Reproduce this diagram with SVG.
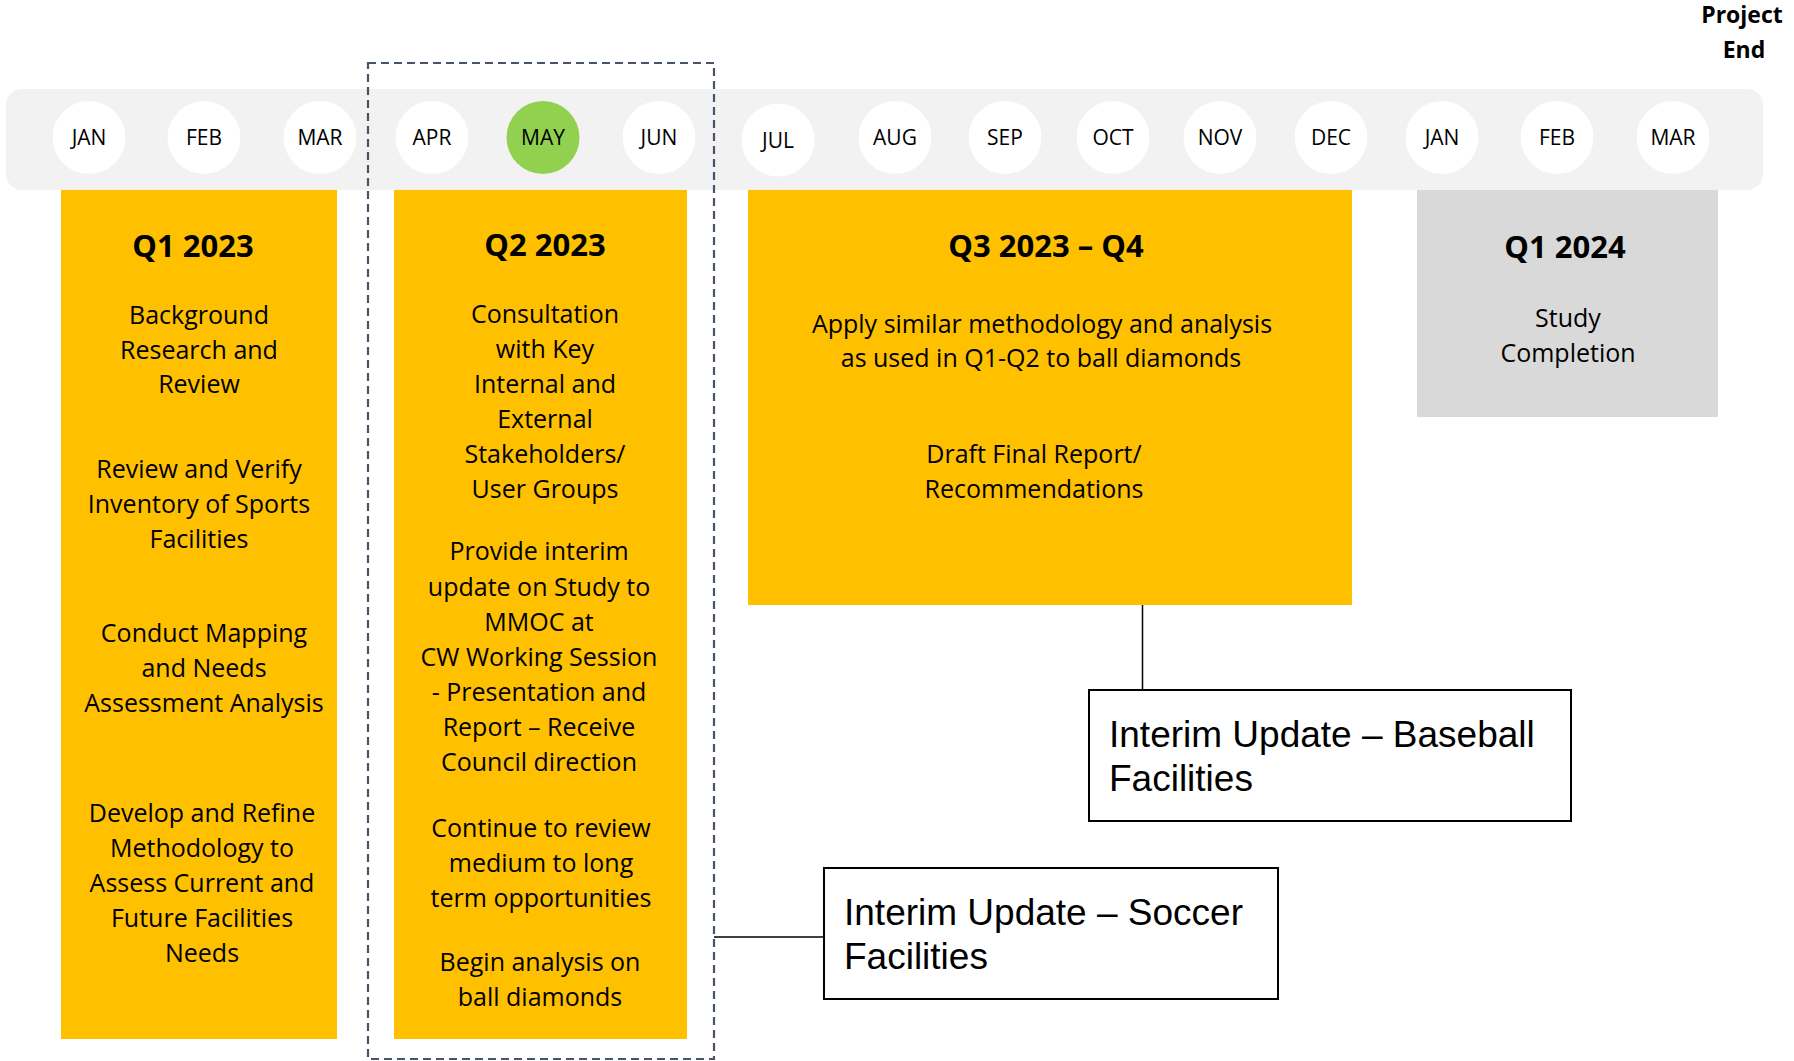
<svg xmlns="http://www.w3.org/2000/svg" width="1794" height="1061" viewBox="0 0 1794 1061">
  <style>
    .month { fill: #ffffff; }
    .month-on { fill: #92D050; }
    .mlabel { font-family: "Open Sans", "DejaVu Sans", sans-serif; font-size: 21px; fill: #000; text-anchor: middle; }
    .phase { fill: #FFC000; }
    .phase-end { fill: #D9D9D9; }
    .head { font-family: "Open Sans", "DejaVu Sans", sans-serif; font-size: 31px; font-weight: bold; fill: #000; text-anchor: middle; }
    .body { font-family: "Open Sans", "DejaVu Sans", sans-serif; font-size: 25px; fill: #000; text-anchor: middle; }
    .note { fill: #ffffff; stroke: #000; stroke-width: 2; }
    .ntext { font-family: "Liberation Sans", Arial, sans-serif; font-size: 37px; fill: #000; }
    .wire { stroke: #000; stroke-width: 1.5; fill: none; }
    .focus { fill: none; stroke: #44546A; stroke-width: 2.2; stroke-dasharray: 8 5; }
    .end { font-family: "Open Sans", "DejaVu Sans", sans-serif; font-size: 23px; font-weight: bold; fill: #000; text-anchor: middle; }
  </style>

  <rect width="1794" height="1061" fill="#ffffff"/>

  <!-- month strip -->
  <g id="timeline">
    <rect x="6" y="89" width="1757" height="101" rx="16" fill="#F2F2F2"/>
    <g id="m-jan-23"><circle class="month" cx="89" cy="137.5" r="36.5"/><text class="mlabel" x="89" y="145">JAN</text></g>
    <g id="m-feb-23"><circle class="month" cx="204" cy="137.5" r="36.5"/><text class="mlabel" x="204" y="145">FEB</text></g>
    <g id="m-mar-23"><circle class="month" cx="320" cy="137.5" r="36.5"/><text class="mlabel" x="320" y="145">MAR</text></g>
    <g id="m-apr-23"><circle class="month" cx="432" cy="137.5" r="36.5"/><text class="mlabel" x="432" y="145">APR</text></g>
    <g id="m-may-23"><circle class="month-on" cx="543" cy="137.5" r="36.5"/><text class="mlabel" x="543" y="145">MAY</text></g>
    <g id="m-jun-23"><circle class="month" cx="659" cy="137.5" r="36.5"/><text class="mlabel" x="659" y="145">JUN</text></g>
    <g id="m-jul-23"><circle class="month" cx="778" cy="140" r="36.5"/><text class="mlabel" x="778" y="148">JUL</text></g>
    <g id="m-aug-23"><circle class="month" cx="895" cy="137.5" r="36.5"/><text class="mlabel" x="895" y="145">AUG</text></g>
    <g id="m-sep-23"><circle class="month" cx="1005" cy="137.5" r="36.5"/><text class="mlabel" x="1005" y="145">SEP</text></g>
    <g id="m-oct-23"><circle class="month" cx="1113" cy="137.5" r="36.5"/><text class="mlabel" x="1113" y="145">OCT</text></g>
    <g id="m-nov-23"><circle class="month" cx="1220" cy="137.5" r="36.5"/><text class="mlabel" x="1220" y="145">NOV</text></g>
    <g id="m-dec-23"><circle class="month" cx="1331" cy="137.5" r="36.5"/><text class="mlabel" x="1331" y="145">DEC</text></g>
    <g id="m-jan-24"><circle class="month" cx="1442" cy="137.5" r="36.5"/><text class="mlabel" x="1442" y="145">JAN</text></g>
    <g id="m-feb-24"><circle class="month" cx="1557" cy="137.5" r="36.5"/><text class="mlabel" x="1557" y="145">FEB</text></g>
    <g id="m-mar-24"><circle class="month" cx="1673" cy="137.5" r="36.5"/><text class="mlabel" x="1673" y="145">MAR</text></g>
  </g>

  <g id="project-end">
    <text class="end" x="1742" y="23">Project</text>
    <text class="end" x="1744" y="58">End</text>
  </g>

  <!-- Q1 2023 -->
  <g id="q1-2023">
    <rect class="phase" x="61" y="190" width="276" height="849"/>
    <text class="head" x="193" y="257">Q1 2023</text>
    <text class="body" x="199" y="324">Background</text>
    <text class="body" x="199" y="359">Research and</text>
    <text class="body" x="199" y="393">Review</text>
    <text class="body" x="199" y="478">Review and Verify</text>
    <text class="body" x="199" y="513">Inventory of Sports</text>
    <text class="body" x="199" y="548">Facilities</text>
    <text class="body" x="204" y="642">Conduct Mapping</text>
    <text class="body" x="204" y="677">and Needs</text>
    <text class="body" x="204" y="712">Assessment Analysis</text>
    <text class="body" x="202" y="822">Develop and Refine</text>
    <text class="body" x="202" y="857">Methodology to</text>
    <text class="body" x="202" y="892">Assess Current and</text>
    <text class="body" x="202" y="927">Future Facilities</text>
    <text class="body" x="202" y="962">Needs</text>
  </g>

  <!-- Q2 2023 -->
  <g id="q2-2023">
    <rect class="phase" x="394" y="190" width="293" height="849"/>
    <text class="head" x="545" y="256">Q2 2023</text>
    <text class="body" x="545" y="323">Consultation</text>
    <text class="body" x="545" y="358">with Key</text>
    <text class="body" x="545" y="393">Internal and</text>
    <text class="body" x="545" y="428">External</text>
    <text class="body" x="545" y="463">Stakeholders/</text>
    <text class="body" x="545" y="498">User Groups</text>
    <text class="body" x="539" y="560">Provide interim</text>
    <text class="body" x="539" y="596">update on Study to</text>
    <text class="body" x="539" y="631">MMOC at</text>
    <text class="body" x="539" y="666">CW Working Session</text>
    <text class="body" x="539" y="701">- Presentation and</text>
    <text class="body" x="539" y="736">Report – Receive</text>
    <text class="body" x="539" y="771">Council direction</text>
    <text class="body" x="541" y="837">Continue to review</text>
    <text class="body" x="541" y="872">medium to long</text>
    <text class="body" x="541" y="907">term opportunities</text>
    <text class="body" x="540" y="971">Begin analysis on</text>
    <text class="body" x="540" y="1006">ball diamonds</text>
  </g>

  <!-- current-quarter frame -->
  <g id="q2-frame">
    <rect class="focus" x="368" y="63" width="346" height="996"/>
  </g>

  <!-- Q3 2023 – Q4 -->
  <g id="q3-q4-2023">
    <rect class="phase" x="748" y="190" width="604" height="415"/>
    <text class="head" x="1046" y="257">Q3 2023 – Q4</text>
    <text class="body" x="1042" y="333">Apply similar methodology and analysis</text>
    <text class="body" x="1041" y="367">as used in Q1-Q2 to ball diamonds</text>
    <text class="body" x="1034" y="463">Draft Final Report/</text>
    <text class="body" x="1034" y="498">Recommendations</text>
  </g>

  <!-- Q1 2024 -->
  <g id="q1-2024">
    <rect class="phase-end" x="1417" y="190" width="301" height="227"/>
    <text class="head" x="1565" y="258">Q1 2024</text>
    <text class="body" x="1568" y="327">Study</text>
    <text class="body" x="1568" y="362">Completion</text>
  </g>

  <!-- connectors -->
  <g id="connectors">
    <line class="wire" x1="1142.5" y1="605" x2="1142.5" y2="690"/>
    <line class="wire" x1="714" y1="937" x2="824" y2="937"/>
  </g>

  <g id="update-baseball">
    <rect class="note" x="1089" y="690" width="482" height="131"/>
    <text class="ntext" x="1109" y="747">Interim Update – Baseball</text>
    <text class="ntext" x="1109" y="791">Facilities</text>
  </g>

  <g id="update-soccer">
    <rect class="note" x="824" y="868" width="454" height="131"/>
    <text class="ntext" x="844" y="925">Interim Update – Soccer</text>
    <text class="ntext" x="844" y="969">Facilities</text>
  </g>
</svg>
